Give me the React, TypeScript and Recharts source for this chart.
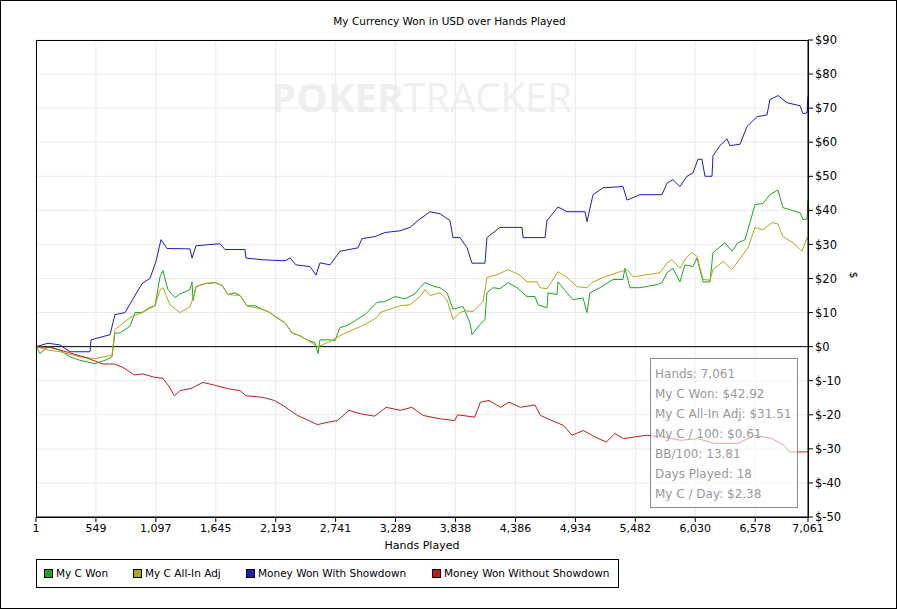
import { CartesianGrid, Line, LineChart, ReferenceLine, XAxis, YAxis } from "recharts";

type Pt = [number, number];

const xTicks = [1, 549, 1097, 1645, 2193, 2741, 3289, 3838, 4386, 4934, 5482, 6030, 6578, 7061];
const yTicks = [-50, -40, -30, -20, -10, 0, 10, 20, 30, 40, 50, 60, 70, 80, 90];

const myCWon: Pt[] = [
  [1, 0], [38, -2], [111, 0], [220, -1], [312, -3], [403, -4], [541, -5], [632, -4], [696, -3],
  [723, 4], [769, 4], [861, 6], [906, 10], [970, 10], [1043, 11.5], [1089, 12], [1135, 20.5],
  [1162, 22.3], [1208, 16.7], [1272, 14.4], [1318, 15.5], [1409, 16.7], [1428, 19], [1437, 13.5],
  [1464, 17.6], [1546, 18.5], [1638, 18.8], [1702, 18], [1757, 15.3], [1821, 15.8], [1867, 15],
  [1931, 12], [2004, 12], [2068, 11], [2141, 10], [2187, 8.8], [2278, 7], [2342, 4], [2415, 3.2],
  [2488, 1.8], [2552, 1.2], [2580, -2], [2598, 2], [2690, 2], [2735, 1.8], [2781, 5.6], [2827, 6],
  [2891, 7], [2946, 8.2], [3010, 9.4], [3119, 13], [3192, 13.2], [3284, 14.7], [3375, 14],
  [3467, 15.5], [3513, 17.3], [3558, 18.8], [3650, 17.6], [3696, 17.3], [3760, 15.8], [3815, 11],
  [3906, 11.8], [3970, 7], [3988, 3.5], [4061, 6.5], [4107, 8], [4125, 15.8], [4180, 17.3],
  [4244, 17], [4317, 18.8], [4400, 17.3], [4491, 14.7], [4564, 14.7], [4592, 12.3], [4674, 11.4],
  [4683, 15.8], [4765, 15.3], [4775, 19], [4857, 15.8], [4912, 13.8], [5003, 14.3], [5040, 10],
  [5067, 15.8], [5159, 17.3], [5278, 19.7], [5369, 19.7], [5387, 23], [5433, 17.3], [5525, 17.3],
  [5680, 18.2], [5726, 18.8], [5772, 21.7], [5826, 23], [5890, 19], [5936, 24], [6009, 23.5],
  [6046, 26], [6101, 19], [6165, 19], [6192, 27.6], [6302, 30.5], [6366, 28], [6420, 30.5],
  [6485, 31.4], [6530, 36.4], [6576, 41.7], [6649, 42], [6713, 44.6], [6786, 46], [6832, 40.8],
  [6988, 39.3], [7015, 37.3], [7052, 37.5], [7061, 42.92],
];

const myCAllInAdj: Pt[] = [
  [1, 0], [111, -1], [220, -1.5], [403, -3], [541, -3.5], [696, -2.5], [723, 5], [861, 8.5],
  [970, 10], [1089, 12], [1135, 16.7], [1162, 17.3], [1226, 12.3], [1318, 10], [1409, 11.7],
  [1446, 15], [1464, 17.6], [1546, 18.5], [1638, 18.8], [1702, 18], [1757, 15.3], [1867, 15],
  [1931, 12], [2068, 11], [2141, 10], [2278, 7], [2342, 4], [2415, 3.2], [2488, 1.8], [2552, 0.5],
  [2580, 0], [2690, 1.5], [2827, 4], [2946, 5.6], [3010, 6.5], [3119, 8.5], [3147, 10], [3238, 11],
  [3330, 12], [3421, 12.3], [3513, 14.7], [3558, 16.7], [3604, 15], [3696, 15.8], [3760, 13.8],
  [3815, 8], [3879, 10], [3924, 10.5], [3997, 10.3], [4089, 13.2], [4125, 20.3], [4217, 21.1],
  [4317, 22.6], [4427, 21], [4491, 19], [4583, 19], [4610, 17.3], [4674, 17], [4775, 22],
  [4857, 20.3], [4948, 17.6], [5040, 17.3], [5086, 18.8], [5186, 20.3], [5314, 21.7], [5406, 22.6],
  [5461, 20.5], [5589, 21.1], [5708, 21.7], [5772, 24.6], [5817, 25.5], [5890, 23], [5954, 26.4],
  [6000, 27.6], [6046, 26.5], [6101, 19.7], [6165, 19.5], [6192, 22.6], [6284, 25], [6366, 22.6],
  [6420, 25], [6512, 29], [6576, 35], [6649, 34.3], [6731, 36.4], [6786, 36], [6832, 32.3],
  [6924, 30.5], [7006, 28], [7052, 32], [7061, 31.51],
];

const wonWithShowdown: Pt[] = [
  [1, 0], [111, 1], [220, 0.5], [312, -1.5], [495, -1.5], [504, 2], [678, 3.5], [723, 9.4],
  [815, 10], [888, 14], [970, 18.5], [1043, 20], [1098, 25], [1144, 31.4], [1199, 28.8],
  [1409, 28.7], [1428, 26], [1464, 29.6], [1684, 30.2], [1729, 28.5], [1912, 28.5], [1921, 26],
  [2068, 25.5], [2278, 25.2], [2324, 26], [2379, 24], [2507, 23.5], [2562, 21], [2598, 24.6],
  [2690, 24], [2781, 28], [2946, 29], [2982, 31.7], [3101, 32.3], [3192, 33.5], [3330, 34],
  [3421, 35], [3494, 37], [3604, 39.6], [3696, 39], [3787, 37], [3814, 32], [3879, 32], [3943, 29],
  [3988, 24.5], [4107, 24.5], [4125, 32], [4244, 35], [4446, 35], [4455, 32], [4656, 32],
  [4674, 37], [4775, 41], [4857, 39.6], [5022, 39.6], [5040, 36.7], [5095, 44.6], [5186, 46.6],
  [5369, 47], [5406, 43], [5524, 44.6], [5726, 44.6], [5772, 48], [5826, 49], [5890, 47],
  [5954, 50], [6009, 51], [6055, 55], [6091, 55], [6119, 50], [6183, 50], [6192, 56], [6256, 59],
  [6320, 61], [6347, 59], [6439, 59.4], [6503, 64.6], [6595, 67.5], [6686, 68], [6713, 72.5],
  [6787, 73.7], [6869, 71.6], [6988, 70.7], [7015, 68.4], [7052, 68.6], [7061, 73.4],
];

const wonWithoutShowdown: Pt[] = [
  [1, 0], [142, -0.3], [299, -1.7], [456, -3.2], [613, -5.1], [718, -5.1], [796, -6.1], [900, -8.3],
  [979, -8], [1084, -9], [1162, -9.3], [1214, -11.5], [1267, -14.4], [1319, -12.9], [1423, -12.2],
  [1528, -10.5], [1633, -11.3], [1764, -12.4], [1868, -12.9], [1921, -14.4], [2078, -14.9],
  [2182, -15.8], [2261, -17.3], [2392, -20.2], [2496, -21.7], [2575, -22.9], [2680, -22.1],
  [2757, -21.7], [2863, -18.7], [2967, -19.7], [3098, -20.4], [3203, -17.8], [3333, -18.7],
  [3438, -17.8], [3542, -20.2], [3699, -21.2], [3830, -21.7], [3856, -20], [4013, -20.7],
  [4065, -16.3], [4144, -15.8], [4249, -17.8], [4327, -16.3], [4432, -17.8], [4563, -17.1],
  [4615, -20.2], [4719, -21.7], [4824, -23.1], [4902, -26], [5007, -24.6], [5112, -26.5],
  [5216, -28], [5295, -25.5], [5374, -27], [5478, -26.5], [5583, -26], [5739, -26.5], [5896, -27.5],
  [6054, -27], [6209, -28.4], [6419, -28.4], [6576, -26], [6733, -27], [6839, -28.9], [6891, -30.9],
  [7061, -30.9],
];

const stats = [
  "Hands: 7,061",
  "My C Won: $42.92",
  "My C All-In Adj: $31.51",
  "My C / 100: $0.61",
  "BB/100: 13.81",
  "Days Played: 18",
  "My C / Day: $2.38",
];

const SERIES = [
  { name: "My C Won", color: "#1ea51e", data: myCWon, x: 44 },
  { name: "My C All-In Adj", color: "#b0a61c", data: myCAllInAdj, x: 133 },
  { name: "Money Won With Showdown", color: "#1c1cbf", data: wonWithShowdown, x: 246 },
  { name: "Money Won Without Showdown", color: "#bf1c1c", data: wonWithoutShowdown, x: 432 },
];

const FONT = "'DejaVu Sans', sans-serif";

const toRows = (pts: Pt[]) => pts.map(([h, v]) => ({ h, v }));

export default function App() {
  return (
    <div
      style={{
        position: "fixed",
        left: 0,
        top: 0,
        width: 897,
        height: 609,
        background: "#fff",
        fontFamily: FONT,
        boxSizing: "border-box",
        border: "1px solid #000",
        overflow: "hidden",
      }}
    >
      <div style={{ position: "absolute", top: 14, left: 0, width: 897, textAlign: "center", fontSize: 10.5 }}>
        My Currency Won in USD over Hands Played
      </div>
      <div
        style={{
          position: "absolute",
          left: 270,
          top: 68,
          fontSize: 40,
          fontWeight: 700,
          color: "#efefef",
          fontFamily: "'Open Sans', sans-serif",
        }}
      >
        POKER<span style={{ fontWeight: 400 }}>TRACKER</span>
      </div>
      <div style={{ position: "absolute", left: -1, top: -1 }}>
        <LineChart width={897} height={609} margin={{ top: 40, right: 29, bottom: 62, left: 36 }}>
          <CartesianGrid stroke="#ebebeb" />
          <XAxis
            dataKey="h"
            type="number"
            domain={[1, 7061]}
            ticks={xTicks}
            interval={0}
            tickFormatter={(v: number) => v.toLocaleString("en-US")}
            tick={{ fontSize: 11, fill: "#000", fontFamily: FONT }}
            tickSize={5}
            stroke="#000"
            height={30}
            label={{ value: "Hands Played", position: "insideBottom", offset: -2, fontSize: 11, fill: "#000" }}
          />
          <YAxis
            orientation="right"
            type="number"
            domain={[-50, 90]}
            ticks={yTicks}
            interval={0}
            tickFormatter={(v: number) => (v < 0 ? `$-${Math.abs(v)}` : `$${v}`)}
            tick={{ fontSize: 11.5, fill: "#000", fontFamily: FONT }}
            tickSize={5}
            stroke="#000"
            width={60}
            label={{ value: "$", angle: 90, position: "insideRight", offset: 14, fontSize: 11, fill: "#000" }}
          />
          <ReferenceLine y={0} stroke="#000" />
          {SERIES.map((s) => (
            <Line
              key={s.name}
              data={toRows(s.data)}
              dataKey="v"
              name={s.name}
              stroke={s.color}
              strokeWidth={1}
              dot={false}
              type="linear"
              isAnimationActive={false}
            />
          ))}
        </LineChart>
      </div>
      <div
        style={{
          position: "absolute",
          left: 35,
          top: 39,
          width: 773,
          height: 478,
          border: "1px solid #000",
          boxSizing: "border-box",
          pointerEvents: "none",
        }}
      />
      <div
        style={{
          position: "absolute",
          left: 649,
          top: 357,
          width: 148,
          height: 150,
          border: "1px solid #888",
          boxSizing: "border-box",
          background: "rgba(255,255,255,0.6)",
          color: "#999",
          fontSize: 12,
          paddingLeft: 4,
          paddingTop: 5,
        }}
      >
        {stats.map((t) => (
          <div key={t} style={{ height: 20, lineHeight: "20px", whiteSpace: "nowrap" }}>
            {t}
          </div>
        ))}
      </div>
      <div
        style={{
          position: "absolute",
          left: 35,
          top: 558,
          width: 583,
          height: 29,
          border: "1px solid #000",
          boxSizing: "border-box",
        }}
      />
      {SERIES.map((s) => (
        <div key={s.name} style={{ position: "absolute", left: s.x - 1, top: 566, display: "flex", alignItems: "center", fontSize: 10.5 }}>
          <span style={{ width: 7, height: 7, background: s.color, border: "1px solid #000", marginRight: 3 }} />
          {s.name}
        </div>
      ))}
    </div>
  );
}
